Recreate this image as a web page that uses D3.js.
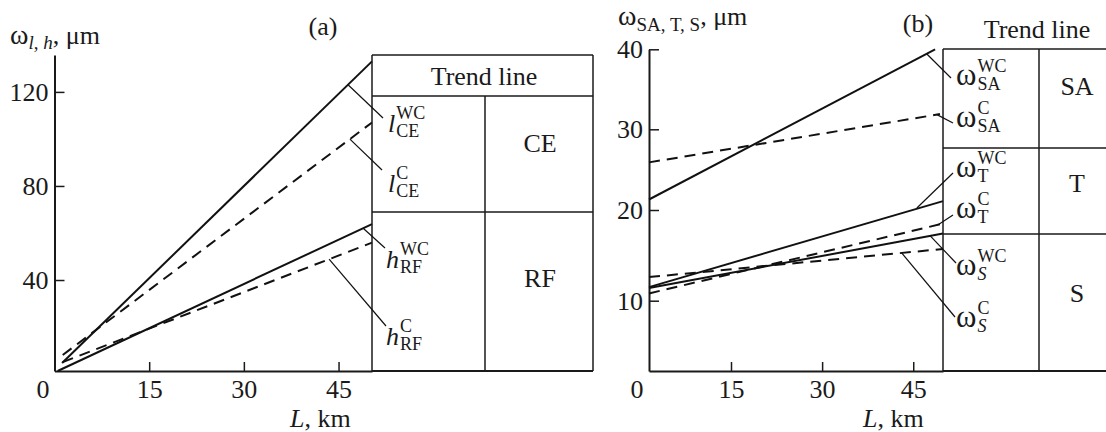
<!DOCTYPE html>
<html>
<head>
<meta charset="utf-8">
<script src="https://cdn.jsdelivr.net/npm/d3@7"></script>
<style>
  body { margin: 0; background: #fff; }
  text { font-family: "Liberation Serif", "DejaVu Serif", serif; fill: #1a1a1a; }
</style>
</head>
<body>
<div id="chart"></div>
<script>
// x values (km) and trend-line ends
const xTicks = [15, 30, 45]
const yTicksA = [40, 80, 120]
const yTicksB = [10, 20, 30, 40]

// panel (a): [L, omega]
const lceWC = [[1.2, 4.7], [50.3, 133]]
const lceC = [[1.3, 8.1], [50.3, 107]]
const hrfWC = [[0.5, 1.3], [50.3, 63.8]]
const hrfC = [[1.3, 5.1], [50.3, 55.9]]

// panel (b)
const saWC = [[1.5, 21.3], [48.6, 40]]
const saC = [[1.5, 25.9], [49.4, 31.9]]
const tWC = [[1.5, 11.5], [49.9, 21.1]]
const tC = [[1.5, 10.8], [49.9, 18.5]]
const sWC = [[1.5, 11.4], [49.9, 17.4]]
const sC = [[1.5, 12.6], [49.9, 15.7]]

const groupsA = ['CE', 'RF']
const groupsB = ['SA', 'T', 'S']

const W = 1106
const H = 432
const BIG = 26
const OMEGA = 31
const SMALL = 18

const svg = d3.select('#chart')
  .append('svg')
    .attr('width', W)
    .attr('height', H)

const yAt = (s, x) => s[0][1] + (s[1][1] - s[0][1]) * (x - s[0][0]) / (s[1][0] - s[0][0])

const drawAxes = (g, x, y, yTicks, zeroX) => {
  const xa = g.append('g')
    .attr('transform', `translate(0,${y.range()[0]})`)
    .call(d3.axisBottom(x).tickValues(xTicks).tickSize(-9).tickSizeOuter(0).tickPadding(9))
  const ya = g.append('g')
    .attr('transform', `translate(${x.range()[0]},0)`)
    .call(d3.axisLeft(y).tickValues(yTicks).tickSize(-10).tickSizeOuter(0).tickPadding(6))

  for (const a of [xa, ya]) {
    a.attr('font-size', BIG).attr('font-family', null)
    a.select('.domain').attr('stroke', '#1a1a1a').attr('stroke-width', 2)
    a.selectAll('.tick line').attr('stroke', '#1a1a1a').attr('stroke-width', 1.5)
  }

  g.append('text')
    .attr('x', zeroX)
    .attr('y', 398)
    .attr('text-anchor', 'middle')
    .attr('font-size', BIG)
    .text('0')
}

const drawSeries = (g, x, y, s, dashed) => {
  g.append('path')
    .datum(s)
    .attr('fill', 'none')
    .attr('stroke', '#111')
    .attr('stroke-width', 2)
    .attr('stroke-dasharray', dashed ? '11,7' : null)
    .attr('d', d3.line().x(d => x(d[0])).y(d => y(d[1])))
}

// main symbol with stacked superscript / subscript
const symbol = (g, px, py, main, sup, sub, italic) => {
  const t = g.append('text')
    .attr('x', px)
    .attr('y', py)
    .attr('font-size', main === 'ω' ? OMEGA : BIG)
    .attr('font-style', italic ? 'italic' : null)
    .text(main)
  const w = t.node().getComputedTextLength()
  g.append('text')
    .attr('x', px + w + 1)
    .attr('y', py - 13)
    .attr('font-size', SMALL)
    .text(sup)
  g.append('text')
    .attr('x', px + w + 1)
    .attr('y', py + 5)
    .attr('font-size', SMALL)
    .attr('font-style', sub === 'S' ? 'italic' : null)
    .text(sub)
}

const leader = (g, x, y, s, at, ex, ey) => {
  g.append('line')
    .attr('x1', x(at))
    .attr('y1', y(yAt(s, at)))
    .attr('x2', ex)
    .attr('y2', ey)
    .attr('stroke', '#111')
    .attr('stroke-width', 1.2)
}

const hline = (g, x1, x2, yy, sw) => g.append('line')
  .attr('x1', x1).attr('x2', x2).attr('y1', yy).attr('y2', yy)
  .attr('stroke', '#1a1a1a').attr('stroke-width', sw || 1.5)

const vline = (g, xx, y1, y2, sw) => g.append('line')
  .attr('x1', xx).attr('x2', xx).attr('y1', y1).attr('y2', y2)
  .attr('stroke', '#1a1a1a').attr('stroke-width', sw || 1.5)

const xLabel = (g, px) => {
  const t = g.append('text').attr('x', px).attr('y', 427).attr('font-size', BIG)
  t.append('tspan').attr('font-style', 'italic').text('L')
  t.append('tspan').text(', km')
}

// ---------- panel (a) ----------
const gA = svg.append('g')
const xA = d3.scaleLinear().domain([0, 50.3]).range([54.5, 372])
const yA = d3.scaleLinear().domain([1.3, 135.7]).range([371, 55])

drawAxes(gA, xA, yA, yTicksA, 43)
drawSeries(gA, xA, yA, lceWC, false)
drawSeries(gA, xA, yA, lceC, true)
drawSeries(gA, xA, yA, hrfWC, false)
drawSeries(gA, xA, yA, hrfC, true)

// table (a)
hline(gA, 372, 593, 55)
hline(gA, 372, 593, 96)
hline(gA, 372, 593, 212)
hline(gA, 372, 593, 371, 2)
vline(gA, 372, 55, 371)
vline(gA, 593, 55, 371)
vline(gA, 485, 96, 371)
gA.append('text').attr('x', 484).attr('y', 85).attr('text-anchor', 'middle')
  .attr('font-size', BIG).text('Trend line')
gA.selectAll('.grp')
  .data(groupsA)
  .join('text')
    .attr('x', 540)
    .attr('y', (d, i) => [152, 287][i])
    .attr('text-anchor', 'middle')
    .attr('font-size', BIG)
    .text(d => d)

leader(gA, xA, yA, lceWC, 46.5, 383, 118)
leader(gA, xA, yA, lceC, 46.8, 382, 170)
leader(gA, xA, yA, hrfWC, 48.9, 385, 248)
leader(gA, xA, yA, hrfC, 43.5, 386, 326)
symbol(gA, 388, 132, 'l', 'WC', 'CE', true)
symbol(gA, 388, 192, 'l', 'C', 'CE', true)
symbol(gA, 386, 268, 'h', 'WC', 'RF', true)
symbol(gA, 386, 345, 'h', 'C', 'RF', true)

const tyA = gA.append('text').attr('x', 10).attr('y', 44).attr('font-size', BIG)
tyA.append('tspan').attr('font-size', 28).text('ω')
tyA.append('tspan').attr('font-size', 19).attr('dy', 5).attr('font-style', 'italic').text('l')
tyA.append('tspan').attr('font-size', 19).text(', ')
tyA.append('tspan').attr('font-size', 19).attr('font-style', 'italic').text('h')
tyA.append('tspan').attr('dy', -5).text(', μm')

gA.append('text').attr('x', 323).attr('y', 35).attr('text-anchor', 'middle')
  .attr('font-size', BIG).text('(a)')
xLabel(gA, 290)

// ---------- panel (b) ----------
const gB = svg.append('g')
const xB = d3.scaleLinear().domain([1.5, 49.9]).range([649, 943])
const yB = d3.scaleLinear().domain([2.3, 10, 20, 30, 40]).range([371, 300.7, 210, 129.3, 49.3])

drawAxes(gB, xB, yB, yTicksB, 637)
drawSeries(gB, xB, yB, saWC, false)
drawSeries(gB, xB, yB, saC, true)
drawSeries(gB, xB, yB, tWC, false)
drawSeries(gB, xB, yB, tC, true)
drawSeries(gB, xB, yB, sWC, false)
drawSeries(gB, xB, yB, sC, true)

// table (b), runs past the right edge
hline(gB, 943, 1130, 49)
hline(gB, 943, 1130, 148)
hline(gB, 943, 1130, 234)
hline(gB, 943, 1130, 371, 2)
vline(gB, 943, 49, 371)
vline(gB, 1039, 49, 371)
gB.append('text').attr('x', 1037).attr('y', 38).attr('text-anchor', 'middle')
  .attr('font-size', BIG).text('Trend line')
gB.selectAll('.grp')
  .data(groupsB)
  .join('text')
    .attr('x', 1077)
    .attr('y', (d, i) => [95, 192, 302][i])
    .attr('text-anchor', 'middle')
    .attr('font-size', BIG)
    .text(d => d)

leader(gB, xB, yB, saWC, 47.2, 951, 78)
leader(gB, xB, yB, saC, 48.9, 953, 123)
leader(gB, xB, yB, tWC, 45.6, 953, 173)
leader(gB, xB, yB, tC, 49.1, 953, 215)
leader(gB, xB, yB, sWC, 47.8, 956, 263)
leader(gB, xB, yB, sC, 43.1, 955, 317)
symbol(gB, 956, 85, 'ω', 'WC', 'SA', false)
symbol(gB, 956, 127, 'ω', 'C', 'SA', false)
symbol(gB, 956, 177, 'ω', 'WC', 'T', false)
symbol(gB, 956, 218, 'ω', 'C', 'T', false)
symbol(gB, 956, 275, 'ω', 'WC', 'S', false)
symbol(gB, 956, 327, 'ω', 'C', 'S', false)

const tyB = gB.append('text').attr('x', 618).attr('y', 25).attr('font-size', BIG)
tyB.append('tspan').attr('font-size', 28).text('ω')
tyB.append('tspan').attr('font-size', 19).attr('dy', 6).text('SA, T, S')
tyB.append('tspan').attr('dy', -6).text(', μm')

gB.append('text').attr('x', 918).attr('y', 32).attr('text-anchor', 'middle')
  .attr('font-size', BIG).text('(b)')
xLabel(gB, 863)
</script>
</body>
</html>
